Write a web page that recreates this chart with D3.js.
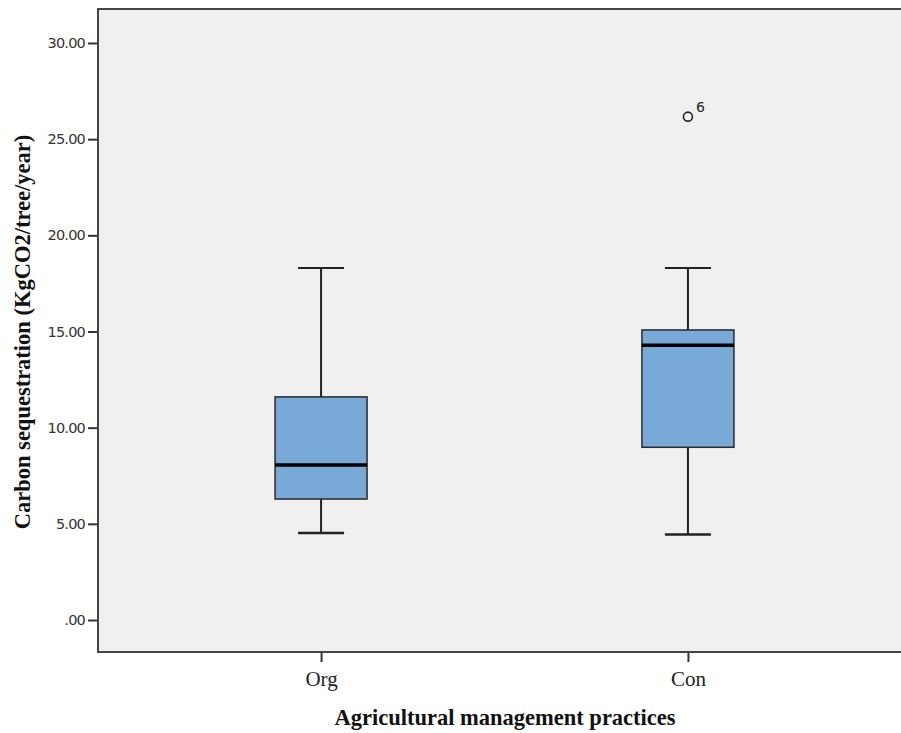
<!DOCTYPE html>
<html>
<head>
<meta charset="utf-8">
<script src="https://cdn.jsdelivr.net/npm/d3@7"></script>
<style>
  body { margin: 0; background: #fff; }
  svg { display: block; }
</style>
</head>
<body>
<div id="chart"></div>
<script>
// Data
const groups = ["Org", "Con"];
const whiskerLow = [4.52, 4.44];
const q1 = [6.29, 8.98];
const medians = [8.06, 14.28];
const q3 = [11.6, 15.08];
const whiskerHigh = [18.3, 18.3];
const outliers = [{ group: "Con", value: 26.17, label: "6" }];
const yTicks = [0, 5, 10, 15, 20, 25, 30];

// Dimensions
const W = 901, H = 733;
const plot = { left: 98, top: 9, right: 901, bottom: 652 };

const svg = d3.select("#chart").append("svg")
  .attr("width", W)
  .attr("height", H);

// Scales
const y = d3.scaleLinear().domain([0, 30]).range([620, 43]);
const x = d3.scalePoint().domain(groups).range([plot.left, 911]).padding(0.608);

// Plot background
svg.append("rect")
  .attr("x", plot.left)
  .attr("y", plot.top)
  .attr("width", plot.right - plot.left)
  .attr("height", plot.bottom - plot.top)
  .attr("fill", "#f0f0f0");

// Frame lines (top, left, bottom)
svg.append("path")
  .attr("d", `M${plot.right},${plot.top}H${plot.left}V${plot.bottom}H${plot.right}`)
  .attr("fill", "none")
  .attr("stroke", "#444")
  .attr("stroke-width", 2);

// Y axis
const yAxis = svg.append("g")
  .attr("transform", `translate(${plot.left - 1},0)`)
  .call(d3.axisLeft(y).tickValues(yTicks).tickSize(9).tickPadding(3)
    .tickFormat(d => d === 0 ? ".00" : d3.format(".2f")(d)));
yAxis.select(".domain").remove();
yAxis.selectAll(".tick line").attr("stroke", "#333").attr("stroke-width", 2);
yAxis.selectAll(".tick text")
  .attr("fill", "#333")
  .style("font-family", "'DejaVu Sans', Verdana, sans-serif")
  .style("font-size", "14.5px")
  .style("letter-spacing", "-0.8px");

// X axis
const xAxis = svg.append("g")
  .attr("transform", `translate(0,${plot.bottom + 1})`)
  .call(d3.axisBottom(x).tickSize(9).tickPadding(9));
xAxis.select(".domain").remove();
xAxis.selectAll(".tick line").attr("stroke", "#333").attr("stroke-width", 2);
xAxis.selectAll(".tick text")
  .attr("fill", "#222")
  .style("font-family", "'Liberation Serif', 'Times New Roman', serif")
  .style("font-size", "21px");

// Boxes
const boxW = 92, capW = 46;
const boxes = svg.append("g").selectAll("g")
  .data(groups)
  .join("g");

boxes.append("line")
  .attr("x1", d => x(d)).attr("x2", d => x(d))
  .attr("y1", (d, i) => y(whiskerHigh[i]))
  .attr("y2", (d, i) => y(whiskerLow[i]))
  .attr("stroke", "#222").attr("stroke-width", 2);

boxes.append("line")
  .attr("x1", d => x(d) - capW / 2).attr("x2", d => x(d) + capW / 2)
  .attr("y1", (d, i) => y(whiskerHigh[i])).attr("y2", (d, i) => y(whiskerHigh[i]))
  .attr("stroke", "#222").attr("stroke-width", 2);

boxes.append("line")
  .attr("x1", d => x(d) - capW / 2).attr("x2", d => x(d) + capW / 2)
  .attr("y1", (d, i) => y(whiskerLow[i])).attr("y2", (d, i) => y(whiskerLow[i]))
  .attr("stroke", "#222").attr("stroke-width", 2.5);

boxes.append("rect")
  .attr("x", d => x(d) - boxW / 2)
  .attr("y", (d, i) => y(q3[i]))
  .attr("width", boxW)
  .attr("height", (d, i) => y(q1[i]) - y(q3[i]))
  .attr("fill", "#79a9d7")
  .attr("stroke", "#2a2a2a")
  .attr("stroke-width", 1.5);

boxes.append("line")
  .attr("x1", d => x(d) - boxW / 2).attr("x2", d => x(d) + boxW / 2)
  .attr("y1", (d, i) => y(medians[i])).attr("y2", (d, i) => y(medians[i]))
  .attr("stroke", "#000").attr("stroke-width", 3.5);

// Outliers
const out = svg.append("g").selectAll("g").data(outliers).join("g");
out.append("circle")
  .attr("cx", d => x(d.group))
  .attr("cy", d => y(d.value))
  .attr("r", 4.5)
  .attr("fill", "none")
  .attr("stroke", "#222")
  .attr("stroke-width", 1.6);
out.append("text")
  .attr("x", d => x(d.group) + 8)
  .attr("y", d => y(d.value) - 5)
  .attr("fill", "#222")
  .style("font-family", "'DejaVu Sans', Verdana, sans-serif")
  .style("font-size", "14px")
  .text(d => d.label);

// Axis titles
svg.append("text")
  .attr("x", 505)
  .attr("y", 725)
  .attr("text-anchor", "middle")
  .attr("fill", "#111")
  .style("font-family", "'Liberation Serif', 'Times New Roman', serif")
  .style("font-weight", "bold")
  .style("font-size", "22.5px")
  .text("Agricultural management practices");

svg.append("text")
  .attr("transform", `translate(30,332) rotate(-90)`)
  .attr("text-anchor", "middle")
  .attr("fill", "#111")
  .style("font-family", "'Liberation Serif', 'Times New Roman', serif")
  .style("font-weight", "bold")
  .style("font-size", "22.5px")
  .text("Carbon sequestration (KgCO2/tree/year)");
</script>
</body>
</html>
